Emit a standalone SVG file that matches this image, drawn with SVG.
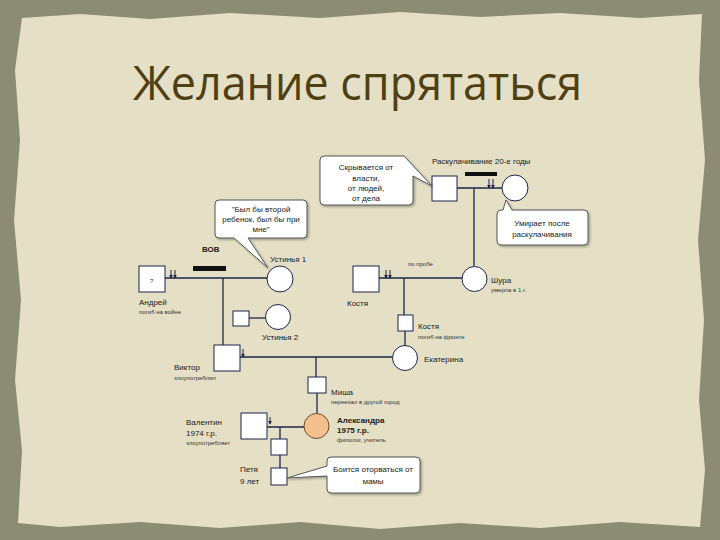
<svg xmlns="http://www.w3.org/2000/svg" width="720" height="540" viewBox="0 0 720 540">
<style>
.ln{stroke:#1c2448;stroke-width:1.3;fill:none}
.nd{fill:#fff;stroke:#1c2448;stroke-width:1}
.t{font-family:"Liberation Sans",Arial,sans-serif;font-size:8px;fill:#1a1a1a}
.s{font-family:"Liberation Sans",Arial,sans-serif;font-size:6px;fill:#333}
.b{font-weight:bold}
.co{fill:#fff;stroke:#555;stroke-width:1}
.bar{fill:#111}
.ar{stroke:#1c2448;stroke-width:1;fill:none}
</style>
<defs>
<marker id="ah" viewBox="0 0 6 6" refX="5" refY="3" markerWidth="4" markerHeight="4" orient="auto"><path d="M0,0 L6,3 L0,6 z" fill="#1c2448"/></marker>
<filter id="sh" x="-10%" y="-10%" width="130%" height="130%"><feDropShadow dx="1.5" dy="1.5" stdDeviation="1" flood-color="#000" flood-opacity="0.3"/></filter>
</defs>
<rect width="720" height="540" fill="#8b8c73"/>
<path d="M22,18 L80,14 L150,19 L230,13 L320,18 L400,12 L480,17 L560,13 L640,18 L702,14 L699,80 L705,160 L698,240 L704,320 L699,400 L705,470 L700,527 L620,522 L540,528 L460,523 L380,529 L300,522 L220,528 L140,522 L60,527 L18,523 L22,450 L15,380 L21,300 L14,220 L20,140 L15,70 Z" fill="#e4dfc5"/>
<text x="133" y="100" font-family="Open Sans, DejaVu Sans, sans-serif" font-size="48" fill="#4f4014" textLength="449" lengthAdjust="spacingAndGlyphs">Желание спрятаться</text>

<g id="connectors">
<path class="ln" d="M457,188 H502"/>
<path class="ln" d="M474,188 V266"/>
<path class="ln" d="M379,278 H462"/>
<path class="ln" d="M404,278 V315"/>
<path class="ln" d="M405,331 V346"/>
<path class="ln" d="M165,278 H267"/>
<path class="ln" d="M223,278 V345"/>
<path class="ln" d="M249,318 H265"/>
<path class="ln" d="M240,357 H392"/>
<path class="ln" d="M316,357 V377"/>
<path class="ln" d="M317,393 V413"/>
<path class="ln" d="M267,427 H304"/>
<path class="ln" d="M280,427 V439"/>
<path class="ln" d="M280,455 V468"/>
<g class="ar" marker-end="url(#ah)">
<path d="M445,176 V185"/>
<path d="M515,176 V184"/>
<path d="M367,266 V273"/>
<path d="M152,266 V274"/>
<path d="M243,349 V357"/>
<path d="M270,417 V424"/>
<path d="M489,179 V188"/><path d="M493,179 V188"/>
<path d="M386,270 V278"/><path d="M390,270 V278"/>
<path d="M171,270 V278"/><path d="M175,270 V278"/>
</g>
<rect class="bar" x="465" y="172" width="32" height="4"/>
<rect class="bar" x="193" y="266" width="33" height="5"/>
</g>

<g id="n_grandpa"><rect class="nd" x="432" y="176" width="25" height="25"/></g>
<g id="n_grandma"><circle class="nd" cx="515" cy="188" r="13"/></g>
<g id="n_kostya_sr"><rect class="nd" x="353" y="266" width="26" height="26"/><text class="t" x="347" y="306">Костя</text></g>
<g id="n_shura"><circle class="nd" cx="474.5" cy="279" r="12.5"/><text class="t" x="491" y="283">Шура</text><text class="s" x="491" y="292">умерла в 1 г.</text></g>
<g id="n_kostya"><rect class="nd" x="398" y="315" width="15" height="16"/><text class="t" x="418" y="329">Костя</text><text class="s" x="418" y="339">погиб на фронте</text></g>
<g id="n_ekaterina"><circle class="nd" cx="405" cy="358" r="12.5"/><text class="t" x="424" y="362">Екатерина</text></g>
<g id="n_andrei"><rect class="nd" x="139" y="266" width="26" height="26"/><text class="s" x="150" y="283">?</text><text class="t" x="139" y="305">Андрей</text><text class="s" x="139" y="314">погиб на войне</text></g>
<g id="n_ustinya1"><circle class="nd" cx="280" cy="279" r="13"/><text class="t" x="270" y="262">Устинья 1</text></g>
<g id="n_ust2sq"><rect class="nd" x="233" y="311" width="16" height="15"/></g>
<g id="n_ustinya2"><circle class="nd" cx="278" cy="317" r="12.5"/><text class="t" x="262" y="340">Устинья 2</text></g>
<g id="n_viktor"><rect class="nd" x="214" y="345" width="26" height="26"/><text class="t" x="174" y="370">Виктор</text><text class="s" x="174" y="380">злоупотреблял</text></g>
<g id="n_misha"><rect class="nd" x="308" y="377" width="18" height="16"/><text class="t" x="331" y="395">Миша</text><text class="s" x="331" y="404">переехал в другой город</text></g>
<g id="n_alexandra"><circle cx="316.5" cy="426" r="12.5" fill="#f6bf8e" stroke="#6b4a2a" stroke-width="1"/><text class="t b" x="337" y="423">Александра</text><text class="t b" x="337" y="433">1975 г.р.</text><text class="s" x="337" y="442">филолог, учитель</text></g>
<g id="n_valentin"><rect class="nd" x="241" y="413" width="26" height="26"/><text class="t" x="186" y="425">Валентин</text><text class="t" x="186" y="436">1974 г.р.</text><text class="s" x="186" y="445">злоупотребляет</text></g>
<g id="n_child"><rect class="nd" x="271" y="439" width="16" height="16"/></g>
<g id="n_petya"><rect class="nd" x="271" y="468" width="16" height="17"/><text class="t" x="240" y="472">Петя</text><text class="t" x="240" y="484">9 лет</text></g>

<g id="callouts" filter="url(#sh)">
<path class="co" d="M324,156 H404 L432,186 L413,176 V201 Q413,205 409,205 H324 Q320,205 320,201 V160 Q320,156 324,156 Z"/>
<path class="co" d="M501,210 H503 L506,200 L512,210 H584 Q588,210 588,214 V241 Q588,245 584,245 H501 Q497,245 497,241 V214 Q497,210 501,210 Z"/>
<path class="co" d="M219,200 H303 Q307,200 307,204 V234 Q307,238 303,238 H248 L268,268 L234,238 H219 Q215,238 215,234 V204 Q215,200 219,200 Z"/>
<path class="co" d="M331,457 H416 Q420,457 420,461 V489 Q420,493 416,493 H331 Q327,493 327,489 V476 L287,478 L327,466 V461 Q327,457 331,457 Z"/>
</g>
<g id="callout_text">
<text class="t" x="366" y="170" text-anchor="middle">Скрывается от</text>
<text class="t" x="366" y="181" text-anchor="middle">власти,</text>
<text class="t" x="366" y="191" text-anchor="middle">от людей,</text>
<text class="t" x="366" y="201" text-anchor="middle">от дела</text>
<text class="t" x="542" y="226" text-anchor="middle">Умирает после</text>
<text class="t" x="542" y="237" text-anchor="middle">раскулачивания</text>
<text class="t" x="261" y="212" text-anchor="middle">"Был бы второй</text>
<text class="t" x="261" y="222" text-anchor="middle">ребенок, был бы при</text>
<text class="t" x="261" y="232" text-anchor="middle">мне"</text>
<text class="t" x="373" y="472" text-anchor="middle">Боится оторваться от</text>
<text class="t" x="373" y="484" text-anchor="middle">мамы</text>
<text class="t" x="432" y="164">Раскулачивание 20-е годы</text>
<text class="t b" x="202" y="252">ВОВ</text>
<text class="s" x="408" y="266">по пробе</text>
</g>
</svg>
